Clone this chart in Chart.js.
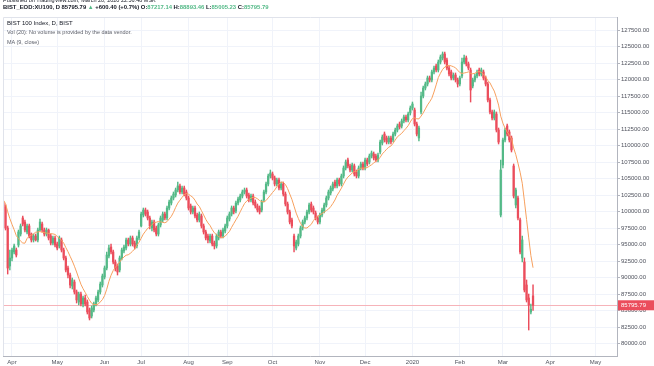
<!DOCTYPE html>
<html>
<head>
<meta charset="utf-8">
<script src="https://cdn.jsdelivr.net/npm/chart.js@4.4.1/dist/chart.umd.min.js"></script>
<style>
  html, body { margin: 0; padding: 0; background: #fff; }
  #wrap { position: relative; width: 654px; height: 366px; overflow: hidden; font-family: "Liberation Sans", Arial, sans-serif; }
  canvas { position: absolute; left: 0; top: 0; }
  .txt { position: absolute; white-space: nowrap; line-height: 1; color: #131722; }
  .up { color: #53b987; }
  .muted { color: #5d606b; }
</style>
</head>
<body>
<div id="wrap">
  <canvas id="chart" width="654" height="366"></canvas>
  <div class="txt" style="left:3px; top:-2px; font-size:5.5px;">Published on TradingView.com, March 20, 2020 22:56:48 MSK</div>
  <div class="txt" id="symbolLine" style="left:3px; top:5px; font-size:5.9px; font-weight:bold;"></div>
  <div class="txt" style="left:7px; top:20px; font-size:6px;">BIST 100 Index, D, BIST</div>
  <div class="txt muted" style="left:7px; top:30px; font-size:5.5px;">Vol (20): No volume is provided by the data vendor.</div>
  <div class="txt muted" style="left:7px; top:40px; font-size:5.5px;">MA (9, close)</div>
</div>
<script>
// trading-day index of the first bar (0 = 1 Apr 2019)
const firstBar = -12;

// daily OHLC, BIST 100, mid Mar 2019 .. 20 Mar 2020
const opens = [
  101600,102100,102600,102300,101900,102200,101500,100900,101300,100530,
  97500,91750,92960,93870,94170,94930,96590,99020,98410,96900,
  97810,96590,95690,96290,95690,97200,98110,97200,96590,97200,
  96290,95230,95990,95080,94780,95690,94170,92960,91440,90380,
  88720,89320,87810,86290,87500,85990,86900,86290,85080,84170,
  85080,85990,86600,87810,88870,90080,91440,93260,94620,93870,
  92350,91750,91140,92960,94020,94470,95690,95080,95990,95230,
  94780,95990,97810,99470,100230,99930,99020,97500,98410,97500,
  96590,97960,98720,99620,99020,100530,101290,102050,102500,103260,
  103870,102960,103560,102960,102050,100840,99930,100530,99470,98720,
  99320,97810,96900,96290,95530,96290,95230,94780,95990,96900,
  96290,97050,97810,98870,99620,100530,100080,101290,101750,102350,
  102960,103260,102500,101750,102350,101440,100840,100530,100230,101750,
  102960,104170,105380,105680,105080,104170,104780,103560,104170,102650,
  101140,99930,98720,96290,94470,95080,96290,97500,98410,99020,
  99930,101140,100530,99780,99020,98410,99470,100080,100990,102050,
  102810,103410,104470,103870,104780,104170,105380,106590,107810,106900,
  106290,106900,105990,105380,106590,107200,106590,107810,107500,108410,
  108710,108410,107810,109020,110380,111740,111140,110530,111140,110840,
  111740,112350,113260,112960,113710,114320,113870,114930,115680,115380,
  113260,111140,115080,117500,118710,119320,120230,119930,121140,122050,
  121440,122650,123260,123860,122960,121740,121140,120230,120680,119930,
  119320,120530,122650,123260,122350,121440,119020,119930,120530,121440,
  120830,121140,120230,119320,116900,115080,114170,114770,112350,99470,
  107050,110840,112960,112050,111140,106900,100990,102050,98720,92960,
  92350,88870,86900,84780,87217.14
];
const highs = [
  102300,102900,103100,102800,102500,102700,101900,101800,101600,101000,
  97800,94170,94470,95080,94470,97200,98110,99320,98720,98110,
  98110,96750,96590,96590,97500,98870,98410,97500,97500,97350,
  96590,96290,96290,95380,96290,95990,94470,93260,91750,90690,
  89930,89630,88110,87810,87810,87200,87350,86600,85380,85690,
  86290,87200,88110,89320,90530,91750,93870,94930,95080,94170,
  92660,92050,93260,94470,94930,95990,95990,96290,96290,95530,
  96290,97200,99930,100530,100530,100230,99320,98720,98720,97810,
  98260,99320,99930,99930,100840,101750,102350,102960,103560,104470,
  104170,103870,103870,103260,102350,101140,100840,100840,99780,99930,
  99620,98110,97200,96590,96590,96590,95530,96590,97200,97200,
  97500,98110,99320,99930,100840,100840,101590,102200,102650,103260,
  103560,103560,102810,102650,102650,101750,101140,100840,101750,103260,
  104470,105680,106290,105990,105380,105080,105080,104470,104470,102960,
  101440,100230,99020,96590,95690,96590,97810,98720,99320,100230,
  101290,101440,100840,100080,99320,99780,100530,101290,102350,103260,
  103870,104470,104780,105080,105080,105680,106900,107810,108110,107200,
  107350,107200,106290,106900,107500,107500,108110,108110,108710,109170,
  109020,108710,108870,110840,111590,112050,111440,111440,111440,112050,
  112650,113260,113560,114020,114620,114620,115080,115990,116590,115680,
  113560,112960,118110,119020,119620,120530,120530,121440,122050,122350,
  122960,123710,124170,124170,123260,122050,121440,120990,120990,120230,
  120530,123260,123710,123560,122650,121740,120230,120830,121440,121740,
  121740,121440,120530,119620,117200,115380,115380,115080,112650,107810,
  111140,112650,113260,112350,111440,107200,103560,102350,99020,96290,
  92960,89630,87500,85990,88893.46
];
const lows = [
  101200,101800,102000,101700,101400,101300,100600,100500,100200,97200,
  90530,91140,92500,93560,93110,94620,96290,97810,96900,96590,
  95990,95380,95380,95530,95380,97050,96900,96290,96290,95690,
  94930,94930,94620,94170,94470,93870,92660,90840,89930,88410,
  88260,87500,86140,85840,85690,85530,85690,84470,83570,83870,
  84780,85690,86290,87500,88560,89780,91140,92960,93560,92050,
  90990,90380,90840,92660,93720,94170,94780,94780,94780,94320,
  94470,95690,97650,99170,99320,98720,97350,97050,96900,96290,
  96290,97650,98410,98720,98720,100230,100990,101750,102200,102960,
  102650,102650,102350,101750,100230,99620,99620,99020,98410,98410,
  97500,96590,95690,95230,95230,94780,94320,94470,95690,95990,
  95990,96750,97500,98560,99320,99620,99780,100990,101440,102050,
  102650,102050,101440,101440,100990,100530,99930,99620,99930,101440,
  102650,103870,105080,104780,103870,103870,103260,103260,102350,100840,
  99620,98110,97500,93870,94170,94780,95990,97200,98110,98720,
  99620,99930,99620,98720,98110,98110,99170,99780,100690,101750,
  102500,103110,103560,103560,103870,103870,105080,106290,106590,105990,
  105990,105380,105080,105080,106290,106290,106290,106900,107200,108110,
  107810,107500,107500,108710,110080,110530,110230,110230,110230,110530,
  111440,112050,112500,112650,113410,113560,113560,114620,115380,112960,
  111440,110680,114770,117200,118410,119020,119620,119620,120830,121140,
  121140,122350,122960,122350,121440,120530,119930,119930,119620,118860,
  119020,120230,122350,122050,121440,116590,118710,119620,120230,120530,
  120530,119930,119020,116590,114770,113870,113870,112050,110230,99170,
  106590,110530,111440,110530,109020,102050,100530,98720,93560,92350,
  87810,86290,82050,84470,85005.23
];
const closes = [
  102100,102600,102300,101900,102200,101500,100900,101300,100600,97500,
  91440,92960,94170,94780,93410,96900,97810,98110,97200,97810,
  96290,95690,96290,95690,97200,98410,97200,96590,97200,95990,
  95230,95990,94930,94470,95990,94170,92960,91140,90380,88870,
  89630,87810,86600,87500,85990,86900,85990,84780,83870,85380,
  85990,86900,87810,89020,90230,91440,93410,94470,93870,92350,
  91440,90840,92960,94170,94620,95690,95080,95990,95080,94620,
  95990,96900,99620,100230,99620,99020,97810,98410,97200,96590,
  97960,99020,99620,99020,100530,101440,102050,102650,103260,103870,
  102960,103560,102650,102050,100530,99930,100530,99320,98720,99620,
  97810,96900,95990,95690,96290,95080,94780,96290,96900,96290,
  97200,97810,99020,99620,100530,99930,101290,101900,102350,102960,
  103260,102350,101750,102350,101290,100840,100230,99930,101440,102960,
  104170,105380,105840,105080,104170,104780,103560,104170,102650,101140,
  99930,98410,97810,94780,95380,96290,97500,98410,99020,99930,
  100990,100230,99930,99020,98410,99470,100230,100990,102050,102960,
  103560,104170,103870,104780,104170,105380,106590,107500,106900,106290,
  107050,105680,105380,106590,107200,106590,107810,107200,108410,108870,
  108110,107810,108560,110530,111290,110840,110530,111140,110530,111740,
  112350,112960,112810,113710,114320,113870,114770,115680,116290,113260,
  111740,112650,117500,118710,119320,120230,119930,121140,121740,121440,
  122650,123410,123860,122650,121740,120830,120230,120680,119930,119320,
  120230,122650,123260,122350,121740,118410,119930,120530,121140,120830,
  121440,120230,119320,116900,115080,114170,115080,112350,110530,106290,
  110840,112350,111740,110840,109320,102350,103260,99020,93870,95690,
  88110,86600,85840,85195.39,85795.79
];

// axis labels
const monthLabels = ["Apr", "May", "Jun", "Jul", "Aug", "Sep", "Oct", "Nov", "Dec", "2020", "Feb", "Mar", "Apr", "May"];
const monthStart = [0, 21, 43, 60, 82, 100, 121, 143, 164, 186, 208, 228, 250, 271];
const priceTicks = [80000, 82500, 85000, 87500, 90000, 92500, 95000, 97500, 100000, 102500,
  105000, 107500, 110000, 112500, 115000, 117500, 120000, 122500, 125000, 127500];

const maLength = 9;
const upColor = "#53b987";
const downColor = "#eb4d5c";
const gridColor = "#f0f3fa";
const axisColor = "#b2b5be";
const labelColor = "#50535e";

Chart.defaults.font.family = "'Liberation Sans', Arial, sans-serif";

// header line from the last bar
const last = closes.length - 1;
const change = closes[last] - closes[last - 1];
const pct = change / closes[last - 1] * 100;
document.getElementById("symbolLine").innerHTML =
  "BIST_EOD:XU100, D " + closes[last].toFixed(2) +
  ' <span class="up">&#9650;</span> ' + (change >= 0 ? "+" : "") + change.toFixed(2) +
  " (" + (pct >= 0 ? "+" : "") + pct.toFixed(1) + "%) " +
  'O:<span class="up">' + opens[last].toFixed(2) + "</span> " +
  'H:<span class="up">' + highs[last].toFixed(2) + "</span> " +
  'L:<span class="up">' + lows[last].toFixed(2) + "</span> " +
  'C:<span class="up">' + closes[last].toFixed(2) + "</span>";

const wickData = closes.map((c, i) => ({ x: firstBar + i, y: [lows[i], highs[i]] }));
const bodyData = closes.map((c, i) => ({ x: firstBar + i, y: [opens[i], c] }));
const candleColors = closes.map((c, i) => (c >= opens[i] ? upColor : downColor));

const maData = [];
for (let i = maLength - 1; i < closes.length; i++) {
  let sum = 0;
  for (let k = i - maLength + 1; k <= i; k++) sum += closes[k];
  maData.push({ x: firstBar + i, y: sum / maLength });
}

// light frame on the left and top of the pane
const paneFrame = {
  id: "paneFrame",
  afterDraw(chart) {
    const { ctx, chartArea: a } = chart;
    ctx.save();
    ctx.strokeStyle = "#e0e3eb";
    ctx.lineWidth = 1;
    ctx.beginPath();
    ctx.moveTo(a.left + 0.5, a.bottom);
    ctx.lineTo(a.left + 0.5, a.top + 0.5);
    ctx.lineTo(a.right, a.top + 0.5);
    ctx.stroke();
    ctx.restore();
  },
};

// last price line and its label on the price axis
const lastPrice = {
  id: "lastPrice",
  beforeDatasetsDraw(chart) {
    const { ctx, chartArea: a, scales } = chart;
    const py = Math.round(scales.y.getPixelForValue(closes[last])) + 0.5;
    ctx.save();
    ctx.strokeStyle = "#f6b3b9";
    ctx.lineWidth = 1;
    ctx.beginPath();
    ctx.moveTo(a.left, py);
    ctx.lineTo(a.right, py);
    ctx.stroke();
    ctx.restore();
  },
  afterDraw(chart) {
    const { ctx, chartArea: a, scales } = chart;
    const py = scales.y.getPixelForValue(closes[last]);
    ctx.save();
    ctx.fillStyle = candleColors[last];
    ctx.fillRect(a.right + 1, py - 5, 36, 10);
    ctx.fillStyle = "#fff";
    ctx.font = "6px 'Liberation Sans', Arial, sans-serif";
    ctx.textBaseline = "middle";
    ctx.textAlign = "left";
    ctx.fillText(closes[last].toFixed(2), a.right + 4, py + 0.5);
    ctx.restore();
  },
};

new Chart(document.getElementById("chart"), {
  type: "bar",
  data: {
    datasets: [
      {
        type: "line",
        data: maData,
        borderColor: "#f7a05e",
        borderWidth: 1,
        pointRadius: 0,
        tension: 0,
        clip: 0,
        order: 0,
      },
      {
        data: bodyData,
        backgroundColor: candleColors,
        barThickness: 1.6,
        minBarLength: 1,
        grouped: false,
        clip: 0,
        order: 1,
      },
      {
        data: wickData,
        backgroundColor: candleColors,
        barThickness: 0.8,
        grouped: false,
        clip: 0,
        order: 2,
      },
    ],
  },
  options: {
    responsive: false,
    animation: false,
    events: [],
    layout: { padding: { left: 3, top: 17, right: 0, bottom: 0 } },
    plugins: {
      legend: { display: false },
      tooltip: { enabled: false },
    },
    scales: {
      x: {
        type: "linear",
        min: -4.18,
        max: 281,
        offset: false,
        afterBuildTicks: (s) => {
          s.ticks = monthStart.map((v) => ({ value: v }));
        },
        afterFit: (s) => {
          s.height = 10;
        },
        ticks: {
          autoSkip: false,
          maxRotation: 0,
          padding: 3,
          color: labelColor,
          font: { size: 6 },
          callback: (v) => monthLabels[monthStart.indexOf(v)],
        },
        grid: { offset: false, color: gridColor, drawTicks: false },
        border: { color: axisColor },
      },
      y: {
        position: "right",
        min: 78111,
        max: 129470,
        afterBuildTicks: (s) => {
          s.ticks = priceTicks.map((v) => ({ value: v }));
        },
        afterFit: (s) => {
          s.width = 37;
        },
        ticks: {
          autoSkip: false,
          padding: 1,
          color: labelColor,
          font: { size: 6 },
          callback: (v) => v.toFixed(2),
        },
        grid: { color: gridColor, tickLength: 3, tickColor: axisColor },
        border: { color: axisColor },
      },
    },
  },
  plugins: [paneFrame, lastPrice],
});
</script>
</body>
</html>
